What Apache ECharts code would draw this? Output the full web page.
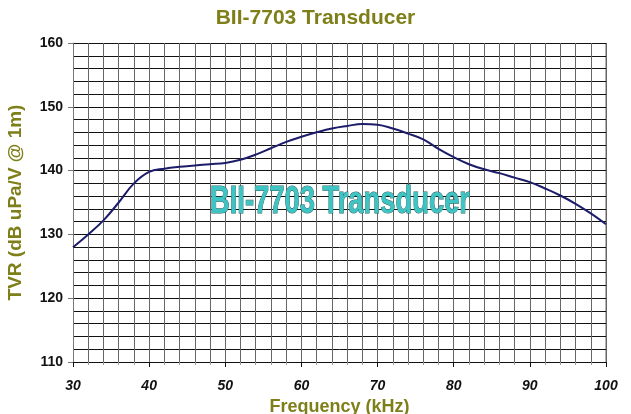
<!DOCTYPE html>
<html>
<head>
<meta charset="utf-8">
<script src="https://cdn.jsdelivr.net/npm/echarts@6/dist/echarts.min.js"></script>
<style>
html,body{margin:0;padding:0;background:#fff;}
#main{width:631px;height:414px;}
</style>
</head>
<body>
<div id="main"></div>
<script>
var freq=[30,32,34,36,38,40,42,44,46,48,50,52,54,56,58,60,62,64,66,68,70,72,74,76,78,80,82,84,86,88,90,92,94,96,98,100];
var tvr=[128.0,130.0,132.2,135.0,138.0,139.8,140.3,140.6,140.8,141.0,141.2,141.7,142.5,143.5,144.5,145.3,146.0,146.6,147.0,147.3,147.2,146.6,145.8,144.9,143.4,142.1,141.0,140.2,139.6,138.9,138.2,137.2,136.1,134.8,133.3,131.6];
var titleText='BII-7703 Transducer';
var xName='Frequency (kHz)';
var yName='TVR (dB uPa/V @ 1m)';

var olive='#7f7f1a';
var pts=[];
for(var i=0;i<freq.length;i++) pts.push([freq[i],tvr[i]]);

var chart=echarts.init(document.getElementById('main'));
var option={
	backgroundColor:'#fff',
	animation:false,
	title:{
		text:titleText,
		left:'center',
		top:3,
		textStyle:{color:olive,fontSize:21,fontWeight:'bold',fontFamily:'Liberation Sans'}
	},
	grid:{left:73,right:25,top:43,bottom:52,outerBoundsMode:'none'},
	xAxis:{
		type:'value',min:30,max:100,interval:10,
		name:xName,nameLocation:'middle',nameGap:32,
		nameTextStyle:{color:olive,fontSize:18,fontWeight:'bold',fontFamily:'Liberation Sans'},
		axisLine:{lineStyle:{color:'#111',width:1}},
		axisTick:{show:true,length:5,lineStyle:{color:'#111'}},
		minorTick:{show:true,splitNumber:5,length:3,lineStyle:{color:'#999'}},
		axisLabel:{color:'#111',fontSize:14,fontWeight:'bold',fontStyle:'italic',margin:17,fontFamily:'Liberation Sans'},
		splitLine:{show:true,lineStyle:{color:'#666',width:1}},
		minorSplitLine:{show:true,lineStyle:{color:'#666',width:1}}
	},
	yAxis:{
		type:'value',min:110,max:160,interval:10,
		name:yName,nameLocation:'middle',nameGap:48,
		nameTextStyle:{color:olive,fontSize:19,fontWeight:'bold',fontFamily:'Liberation Sans'},
		axisLine:{show:true,lineStyle:{color:'#777',width:1}},
		axisTick:{show:true,length:5,lineStyle:{color:'#777'}},
		axisLabel:{color:'#111',fontSize:14,fontWeight:'bold',margin:10,fontFamily:'Liberation Sans'},
		splitLine:{show:true,lineStyle:{color:'#111',width:1}},
		minorTick:{show:false,splitNumber:5},
		minorSplitLine:{show:true,lineStyle:{color:'#111',width:1}}
	},
	graphic:[{
		type:'text',
		x:340,y:203,
		scaleX:0.72,
		style:{
			text:titleText,
			fill:'#3fc4c4',
			stroke:'#2b5f5f',
			lineWidth:1,
			font:'bold 38px "Liberation Sans"',
			align:'center',
			verticalAlign:'middle'
		},
		z:100
	},{
		type:'rect',
		shape:{x:606,y:43,width:0,height:319},
		style:{stroke:'#999',lineWidth:1,fill:null}
	}],
	series:[{
		type:'line',
		data:pts,
		smooth:0.4,
		symbol:'none',
		lineStyle:{color:'#1c1c6a',width:2},
		z:3
	}]
};
chart.setOption(option);
</script>
</body>
</html>
